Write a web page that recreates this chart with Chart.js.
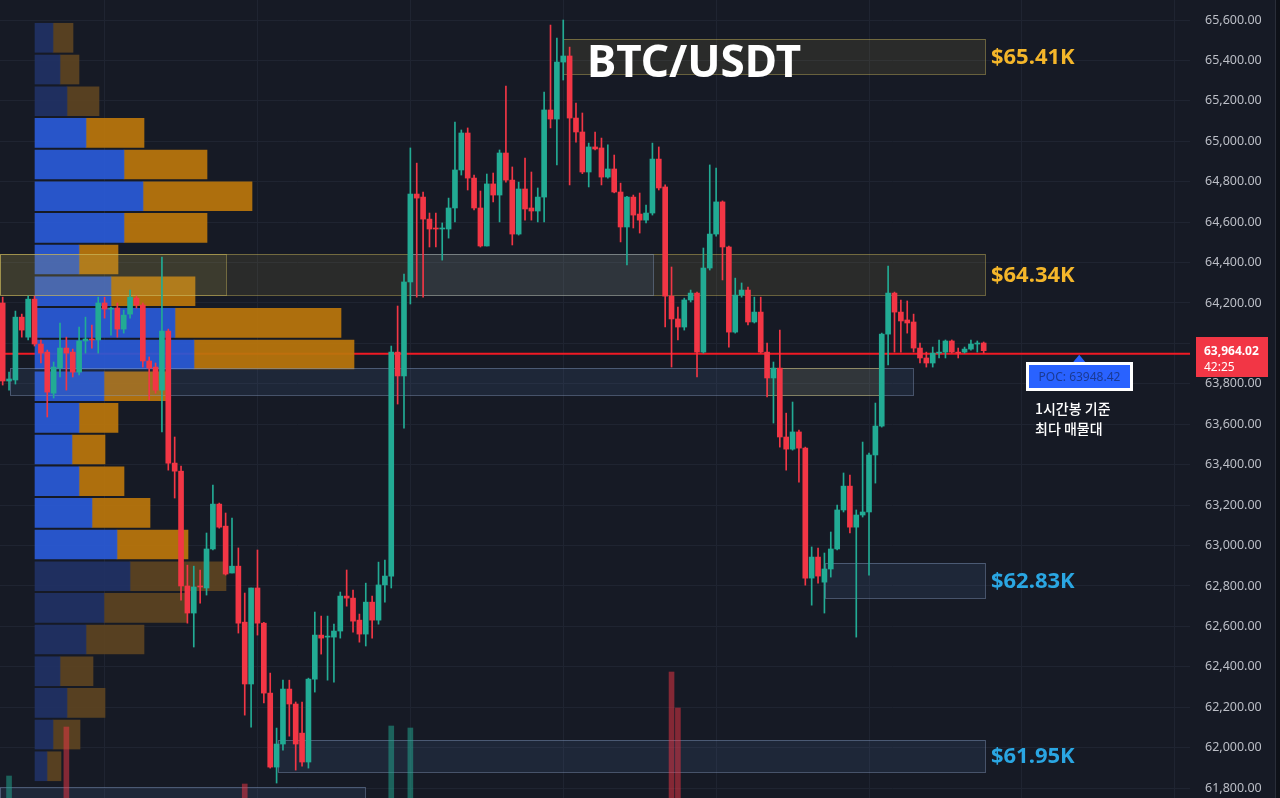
<!DOCTYPE html>
<html>
<head>
<meta charset="utf-8">
<script src="https://cdn.jsdelivr.net/npm/chart.js@4.4.1/dist/chart.umd.min.js"></script>
<style>
  html, body { margin: 0; padding: 0; background: #161a25; }
  #wrap { position: relative; width: 1280px; height: 798px; }
</style>
</head>
<body>
<div id="wrap"><canvas id="chart" width="1280" height="798"></canvas></div>
<script>
// 1시간봉 BTC/USDT, 155 candles (index 0 = oldest)
const opens = [64200,63814,63819,64130,64031,64219,63997,63957,63754,63878,63977,63957,63858,64012,64022,64017,64200,64170,64175,64071,64145,64224,64190,63913,63883,63769,64061,63408,63368,62800,62666,62800,62790,62983,63205,63096,62864,62898,62621,62315,62790,62616,62270,61904,62018,62290,62216,62072,61929,62339,62557,62547,62547,62577,62750,62740,62631,62562,62720,62631,62805,62849,63957,63839,64304,64739,64724,64615,64571,64566,64566,64670,64858,65041,64818,64670,64482,64789,64734,64942,64808,64541,64764,64670,64655,64724,65155,65110,65392,65422,65115,65046,64848,64972,64967,64823,64863,64749,64576,64724,64640,64610,64645,64912,64774,64234,64121,64081,64215,64249,63957,64373,64541,64700,64477,64056,64239,64264,64106,64155,63957,63829,63878,63537,63477,63562,63482,62839,62943,62819,62884,62983,63176,63294,63091,63151,63166,63448,63591,64046,64249,64155,64116,64106,63977,63928,63903,63952,63957,64012,63957,63957,63972,63997,64002];
const highs = [64229,63858,64160,64145,64234,64234,64017,63967,63908,64101,64031,63972,64081,64130,64091,64229,64229,64180,64200,64165,64264,64234,64200,63933,63903,64427,64071,63537,63393,62903,62898,62879,63062,63299,63210,63161,63136,62988,62765,62790,62978,62620,62369,62097,62334,62334,62226,62226,62344,62671,62651,62651,62611,62770,62879,62780,62661,62814,62750,62918,62928,63987,64185,64343,64967,64892,64749,64645,64645,64596,64719,65095,65056,65066,64833,64754,64838,64843,64957,65273,64873,64798,64917,64848,64769,65244,65575,65511,65600,65466,65189,65140,64991,65046,65016,64982,64932,64793,64728,64734,64744,64685,64991,64972,64784,64378,64180,64224,64264,64254,64472,64883,64868,64705,64482,64323,64299,64279,64229,64229,64002,63908,64066,63655,63710,63571,63487,62993,62988,62963,63067,63200,63359,63349,63176,63512,63458,63705,64051,64383,64254,64215,64210,64145,64002,63957,63982,64017,64017,64017,63977,63982,64017,64012,64007];
const lows = [63794,63769,63799,64031,64017,63987,63903,63636,63730,63834,63769,63834,63844,63952,63977,63952,64125,64041,64031,64051,64125,64175,63883,63720,63754,63562,63373,63235,62730,62616,62498,62715,62755,62978,63086,62854,62864,62567,62161,62102,62557,62221,61899,61825,61988,62057,61889,61909,61899,62275,62463,62334,62324,62542,62700,62572,62522,62503,62542,62611,62720,62790,63700,63581,64195,64229,64229,64477,64477,64412,64521,64601,64833,64759,64660,64477,64482,64700,64601,64798,64487,64536,64610,64610,64601,64601,65066,64883,65303,64784,64996,64840,64774,64957,64784,64818,64745,64502,64388,64571,64546,64596,64635,64759,64081,63883,64017,64066,64205,63834,63952,64363,64531,64314,63982,64051,64229,64091,64101,63952,63735,63606,63487,63373,63472,63314,62804,62705,62814,62666,62844,62978,63166,63062,62547,63141,62854,63309,63586,63893,63957,63957,64051,63957,63903,63883,63883,63928,63928,63952,63928,63952,63967,63957,63952];
const closes = [63814,63824,64130,64066,64219,63997,63952,63759,63883,63977,63952,63858,64012,64022,64017,64200,64170,64175,64071,64140,64229,64190,63913,63878,63769,64061,63408,63368,62800,62666,62795,62795,62983,63205,63091,62859,62898,62616,62315,62790,62616,62270,61904,62018,62290,62216,62018,61929,62339,62557,62542,62552,62577,62750,62740,62626,62562,62720,62631,62805,62849,63957,63839,64304,64739,64719,64615,64566,64566,64571,64670,64858,65041,64818,64670,64482,64789,64734,64942,64808,64541,64764,64665,64655,64724,65155,65110,65392,65422,65115,65046,64848,64972,64962,64823,64863,64749,64576,64724,64635,64610,64645,64912,64769,64234,64121,64081,64215,64249,63957,64373,64541,64700,64477,64056,64239,64264,64106,64155,63957,63829,63878,63537,63477,63562,63482,62839,62943,62849,62884,62983,63176,63294,63091,63151,63166,63448,63591,64046,64249,64155,64111,64101,63977,63928,63903,63952,63957,64012,63957,63952,63972,63997,64002,63964.02];

// volume histogram: only the tallest bars reach into view [candle index, volume]
const volumeBars = [[1, 22], [10, 71], [38, 14], [61, 72], [64, 70], [105, 126], [106, 90]];

// volume profile rows (row centre price, buy volume, sell volume)
const profilePrices = [65512,65355,65198,65042,64885,64728,64572,64415,64258,64102,63945,63788,63632,63475,63318,63162,63005,62848,62692,62535,62378,62222,62065,61908];
const buyVol  = [180,250,320,510,890,1080,890,440,760,1400,1590,690,440,370,440,570,820,950,690,510,250,320,180,120];
const sellVol = [200,190,320,580,830,1090,830,390,840,1660,1600,630,390,330,450,580,710,960,830,580,330,380,270,140];
const valueAreaHigh = 65120;
const valueAreaLow = 62927;

const priceTicks = [61800,62000,62200,62400,62600,62800,63000,63200,63400,63600,63800,64000,64200,64400,64600,64800,65000,65200,65400,65600];
const dayTicks = [16, 40, 64, 88, 112, 136, 160, 184];

const pocPrice = 63948.42;
const lastPrice = 63964.02;
const countdown = '42:25';

// 지지/저항 박스
const zones = [
  { from: 88, to: 154.2, lo: 65333, hi: 65506, kind: 'gold', label: '$65.41K' },
  { from: -0.42, to: 154.2, lo: 64239, hi: 64442, kind: 'gold', label: '$64.34K' },
  { from: -0.42, to: 35, lo: 64239, hi: 64442, kind: 'gold' },
  { from: 64, to: 102.1, lo: 64239, hi: 64442, kind: 'blue' },
  { from: 1.15, to: 142.9, lo: 63745, hi: 63878, kind: 'blue' },
  { from: 120, to: 137.7, lo: 63745, hi: 63878, kind: 'gold' },
  { from: 129.1, to: 154.2, lo: 62740, hi: 62913, kind: 'blue', label: '$62.83K' },
  { from: 43.2, to: 154.2, lo: 61879, hi: 62038, kind: 'blue', label: '$61.95K' },
  { from: -0.42, to: 56.9, lo: 61700, hi: 61805, kind: 'blue' }
];

const UP = '#22ab94';
const DOWN = '#f23645';
const GRID = '#1f2431';

const candleColor = opens.map((o, i) => closes[i] >= o ? UP : DOWN);
const inVA = p => p <= valueAreaHigh && p >= valueAreaLow;

const overlay = {
  id: 'overlay',
  beforeDatasetsDraw(chart) {
    const { ctx, chartArea: a, scales: { y } } = chart;
    const py = y.getPixelForValue(pocPrice);
    ctx.save();
    ctx.strokeStyle = '#f01a24';
    ctx.lineWidth = 2;
    ctx.beginPath();
    ctx.moveTo(a.left, py);
    ctx.lineTo(a.right, py);
    ctx.stroke();
    ctx.restore();
  },
  beforeDatasetDraw(chart, args) {
    if (chart.data.datasets[args.index].label !== 'Volume') return;
    const { ctx, chartArea: a, scales: { x, y } } = chart;
    ctx.save();
    ctx.beginPath();
    ctx.rect(a.left, a.top, a.right - a.left, a.bottom - a.top);
    ctx.clip();
    zones.forEach(z => {
      const x0 = Math.round(x.getPixelForValue(z.from));
      const x1 = Math.round(x.getPixelForValue(z.to));
      const y0 = Math.round(y.getPixelForValue(z.hi));
      const y1 = Math.round(y.getPixelForValue(z.lo));
      ctx.fillStyle = z.kind === 'gold' ? 'rgba(190,172,80,0.12)' : 'rgba(80,112,165,0.15)';
      ctx.fillRect(x0, y0, x1 - x0, y1 - y0);
      ctx.strokeStyle = z.kind === 'gold' ? 'rgba(205,185,90,0.45)' : 'rgba(130,152,190,0.45)';
      ctx.lineWidth = 1;
      ctx.strokeRect(x0 + 0.5, y0 + 0.5, x1 - x0, y1 - y0);
    });
    ctx.restore();
  },
  afterDraw(chart) {
    const { ctx, chartArea: a, scales: { x, y } } = chart;
    ctx.save();

    // 박스 라벨
    ctx.font = 'bold 22px "Noto Sans", sans-serif';
    ctx.textAlign = 'left';
    ctx.textBaseline = 'middle';
    zones.filter(z => z.label).forEach(z => {
      ctx.fillStyle = z.kind === 'gold' ? '#f4b62a' : '#2aa6e2';
      const lx = x.getPixelForValue(z.to) + 6;
      const ly = (y.getPixelForValue(z.hi) + y.getPixelForValue(z.lo)) / 2 + 1;
      ctx.fillText(z.label, lx, ly);
    });

    // 타이틀
    ctx.fillStyle = '#ffffff';
    ctx.font = 'bold 44px "Noto Sans", sans-serif';
    ctx.textAlign = 'center';
    ctx.fillText('BTC/USDT', 694, 64);

    // POC 말풍선
    const tipX = x.getPixelForValue(169);
    const tipY = y.getPixelForValue(pocPrice) + 1;
    const bw = 107, bh = 29;
    const bx = Math.round(tipX - bw / 2), by = Math.round(tipY + 7);
    ctx.fillStyle = '#2962ff';
    ctx.beginPath();
    ctx.moveTo(tipX, tipY);
    ctx.lineTo(tipX - 6, by);
    ctx.lineTo(tipX + 6, by);
    ctx.closePath();
    ctx.fill();
    ctx.fillStyle = '#ffffff';
    ctx.fillRect(bx, by, bw, bh);
    ctx.fillStyle = '#2962ff';
    ctx.fillRect(bx + 3, by + 3, bw - 6, bh - 6);
    ctx.fillStyle = '#1a3a94';
    ctx.font = '12px "Noto Sans", sans-serif';
    ctx.textAlign = 'center';
    ctx.fillText('POC: ' + pocPrice.toFixed(2), bx + bw / 2, by + bh / 2 + 1);

    ctx.fillStyle = '#ffffff';
    ctx.font = '500 14px "Noto Sans CJK KR", sans-serif';
    ctx.textAlign = 'left';
    ctx.fillText('1시간봉 기준', bx + 9, by + 47);
    ctx.fillText('최다 매물대', bx + 9, by + 67);

    // 현재가 라벨
    const ly = y.getPixelForValue(lastPrice);
    ctx.fillStyle = DOWN;
    ctx.fillRect(a.right + 6, Math.round(ly - 14), 72, 40);
    ctx.fillStyle = '#ffffff';
    ctx.font = 'bold 12px "Noto Sans", sans-serif';
    ctx.fillText(lastPrice.toLocaleString('en-US', { minimumFractionDigits: 2 }), a.right + 14, ly + 1);
    ctx.font = '12px "Noto Sans", sans-serif';
    ctx.fillText(countdown, a.right + 14, ly + 17);

    // 오른쪽 테두리
    ctx.fillStyle = '#0e1118';
    ctx.fillRect(1276, 0, 4, 798);
    ctx.fillStyle = '#2a2e39';
    ctx.fillRect(1275, 0, 1, 798);
    ctx.restore();
  }
};

const ctx = document.getElementById('chart').getContext('2d');

new Chart(ctx, {
  type: 'bar',
  data: {
    datasets: [
      {
        label: 'Body',
        data: opens.map((o, i) => ({ x: i, y: [o, closes[i]] })),
        backgroundColor: candleColor,
        barThickness: 5,
        minBarLength: 1,
        grouped: false,
        order: 0
      },
      {
        label: 'Wick',
        data: opens.map((o, i) => ({ x: i, y: [lows[i], highs[i]] })),
        backgroundColor: candleColor,
        barThickness: 1,
        grouped: false,
        order: 1
      },
      {
        label: 'Volume',
        data: volumeBars.map(v => ({ x: v[0], y: v[1] })),
        backgroundColor: volumeBars.map(v => candleColor[v[0]] === UP ? 'rgba(34,171,148,0.5)' : 'rgba(242,54,69,0.5)'),
        yAxisID: 'yVol',
        barThickness: 5,
        grouped: false,
        order: 2
      },
      {
        label: 'Buy',
        indexAxis: 'y',
        xAxisID: 'xv',
        yAxisID: 'y',
        data: profilePrices.map((p, k) => ({ x: [0, buyVol[k]], y: p })),
        backgroundColor: profilePrices.map(p => inVA(p) ? 'rgba(42,90,214,0.93)' : 'rgba(32,50,100,0.93)'),
        barThickness: 29,
        grouped: false,
        order: 10
      },
      {
        label: 'Sell',
        indexAxis: 'y',
        xAxisID: 'xv',
        yAxisID: 'y',
        data: profilePrices.map((p, k) => ({ x: [buyVol[k], buyVol[k] + sellVol[k]], y: p })),
        backgroundColor: profilePrices.map(p => inVA(p) ? 'rgba(186,118,12,0.93)' : 'rgba(92,68,33,0.93)'),
        barThickness: 29,
        grouped: false,
        order: 11
      }
    ]
  },
  options: {
    responsive: false,
    animation: false,
    events: [],
    layout: { padding: 0 },
    plugins: {
      legend: { display: false },
      tooltip: { enabled: false }
    },
    scales: {
      x: {
        type: 'linear',
        min: -0.42,
        max: 186.39,
        offset: false,
        ticks: { display: false },
        grid: { color: GRID, drawTicks: false, offset: false },
        border: { display: false },
        afterBuildTicks: s => { s.ticks = dayTicks.map(v => ({ value: v })); },
        afterFit: s => { s.height = 0; s.paddingLeft = 0; s.paddingRight = 0; }
      },
      xv: {
        type: 'linear',
        axis: 'x',
        display: false,
        min: -350,
        max: 11550,
        offset: false
      },
      y: {
        type: 'linear',
        position: 'right',
        min: 61751,
        max: 65699,
        offset: false,
        grid: { color: GRID, drawTicks: false, offset: false },
        border: { display: false },
        ticks: {
          color: '#bcbfc7',
          padding: 15,
          font: { family: '"Noto Sans", sans-serif', size: 12.5 },
          callback: v => Number(v).toLocaleString('en-US', { minimumFractionDigits: 2, maximumFractionDigits: 2 })
        },
        afterBuildTicks: s => { s.ticks = priceTicks.map(v => ({ value: v })); },
        afterFit: s => { s.width = 90; s.paddingTop = 0; s.paddingBottom = 0; }
      },
      yVol: {
        type: 'linear',
        axis: 'y',
        display: false,
        min: 0,
        max: 798,
        offset: false
      }
    }
  },
  plugins: [overlay]
});
</script>
</body>
</html>
